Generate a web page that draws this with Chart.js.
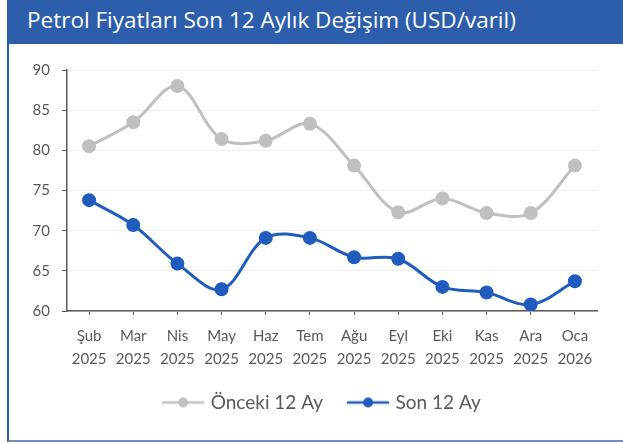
<!DOCTYPE html>
<html lang="tr">
<head>
    <meta charset="UTF-8">
    <title>Petrol Fiyatları Son 12 Aylık Değişim</title>
    <script src="https://cdn.jsdelivr.net/npm/chart.js"></script>
    <style>
        html, body {
            margin: 0;
            padding: 0;
            background: #ffffff;
            width: 623px;
            height: 443px;
            overflow: hidden;
            font-family: Lato, "Open Sans", sans-serif;
        }
        #header {
            position: absolute;
            left: 7px;
            top: 0;
            width: 616px;
            height: 44px;
            background-color: #2c5eab;
            color: #ffffff;
            font-family: "Open Sans", sans-serif;
            font-size: 22.5px;
            line-height: 39px;
            box-sizing: border-box;
            padding-left: 20px;
            white-space: nowrap;
        }
        #panel {
            position: absolute;
            left: 7px;
            top: 44px;
            width: 616px;
            height: 398px;
            box-sizing: border-box;
            border-left: 2px solid #2c5eab;
            border-bottom: 2px solid #7191b4;
        }
        #chartBox {
            position: absolute;
            left: 9px;
            top: 44px;
            width: 614px;
            height: 396px;
        }
    </style>
</head>
<body>
    <div id="header">Petrol Fiyatları Son 12 Aylık Değişim (USD/varil)</div>
    <div id="panel"></div>
    <div id="chartBox">
        <canvas id="oilChart"></canvas>
    </div>

    <script>
        const months = ['Şub', 'Mar', 'Nis', 'May', 'Haz', 'Tem', 'Ağu', 'Eyl', 'Eki', 'Kas', 'Ara', 'Oca'];
        const years = ['2025', '2025', '2025', '2025', '2025', '2025', '2025', '2025', '2025', '2025', '2025', '2026'];
        const previous12 = [80.5, 83.5, 88.0, 81.4, 81.2, 83.3, 78.1, 72.3, 74.0, 72.2, 72.2, 78.1];
        const last12 = [73.8, 70.7, 65.9, 62.7, 69.1, 69.1, 66.7, 66.5, 63.0, 62.3, 60.8, 63.7];
        const yTicks = [60, 65, 70, 75, 80, 85, 90];

        const grayColor = '#c0c0c0';
        const blueColor = '#1f5cbd';
        const textColor = '#595959';

        // legend sample: short line with a dot in the middle
        function legendMark(color) {
            const c = document.createElement('canvas');
            c.width = 42;
            c.height = 14;
            const g = c.getContext('2d');
            g.strokeStyle = color;
            g.lineWidth = 2.5;
            g.beginPath();
            g.moveTo(0, 7);
            g.lineTo(42, 7);
            g.stroke();
            g.fillStyle = color;
            g.beginPath();
            g.arc(21, 7, 5, 0, Math.PI * 2);
            g.fill();
            return c;
        }
        const legendMarks = [legendMark(grayColor), legendMark(blueColor)];

        // nudge the legend a bit to the right, like in the original
        const legendShift = {
            id: 'legendShift',
            afterLayout(chart) {
                if (chart.legend) {
                    chart.legend.left += 20;
                    chart.legend.right += 20;
                }
            }
        };

        const labels = months.map((m, i) => [m, years[i]]);

        new Chart(document.getElementById('oilChart'), {
            type: 'line',
            data: {
                labels: labels,
                datasets: [{
                    label: 'Önceki 12 Ay',
                    data: previous12,
                    borderColor: grayColor,
                    backgroundColor: grayColor,
                    borderWidth: 3,
                    pointRadius: 5.5,
                    pointHoverRadius: 5.5,
                    tension: 0.35
                }, {
                    label: 'Son 12 Ay',
                    data: last12,
                    borderColor: blueColor,
                    backgroundColor: blueColor,
                    borderWidth: 3,
                    pointRadius: 5.5,
                    pointHoverRadius: 5.5,
                    tension: 0.35
                }]
            },
            options: {
                responsive: true,
                maintainAspectRatio: false,
                animation: false,
                layout: {
                    padding: { top: 26, right: 26, left: 0, bottom: 18 }
                },
                scales: {
                    x: {
                        offset: true,
                        grid: {
                            offset: false,
                            drawOnChartArea: false,
                            tickLength: 4,
                            tickColor: '#595959'
                        },
                        border: { color: '#595959', width: 1.5 },
                        ticks: {
                            color: textColor,
                            font: { family: 'Lato', size: 15, lineHeight: 1.5 },
                            padding: 10,
                            maxRotation: 0,
                            autoSkip: false
                        },
                        afterFit: scale => { scale.height = 55; }
                    },
                    y: {
                        min: 60,
                        max: 90,
                        afterBuildTicks: scale => {
                            scale.ticks = yTicks.map(v => ({ value: v }));
                        },
                        grid: {
                            color: '#efefef',
                            tickLength: 5,
                            tickColor: '#595959'
                        },
                        border: { color: '#595959', width: 1.5 },
                        ticks: {
                            color: textColor,
                            font: { family: 'Lato', size: 15 },
                            padding: 12
                        },
                        afterFit: scale => { scale.width = 58; }
                    }
                },
                plugins: {
                    tooltip: { enabled: false },
                    legend: {
                        position: 'bottom',
                        labels: {
                            usePointStyle: true,
                            pointStyleWidth: 36,
                            color: textColor,
                            font: { family: 'Lato', size: 19 },
                            padding: 27,
                            generateLabels: chart => chart.data.datasets.map((ds, i) => ({
                                text: ds.label,
                                pointStyle: legendMarks[i],
                                fontColor: textColor,
                                datasetIndex: i,
                                hidden: false,
                                lineWidth: 0
                            }))
                        }
                    }
                }
            },
            plugins: [legendShift]
        });
    </script>
</body>
</html>
